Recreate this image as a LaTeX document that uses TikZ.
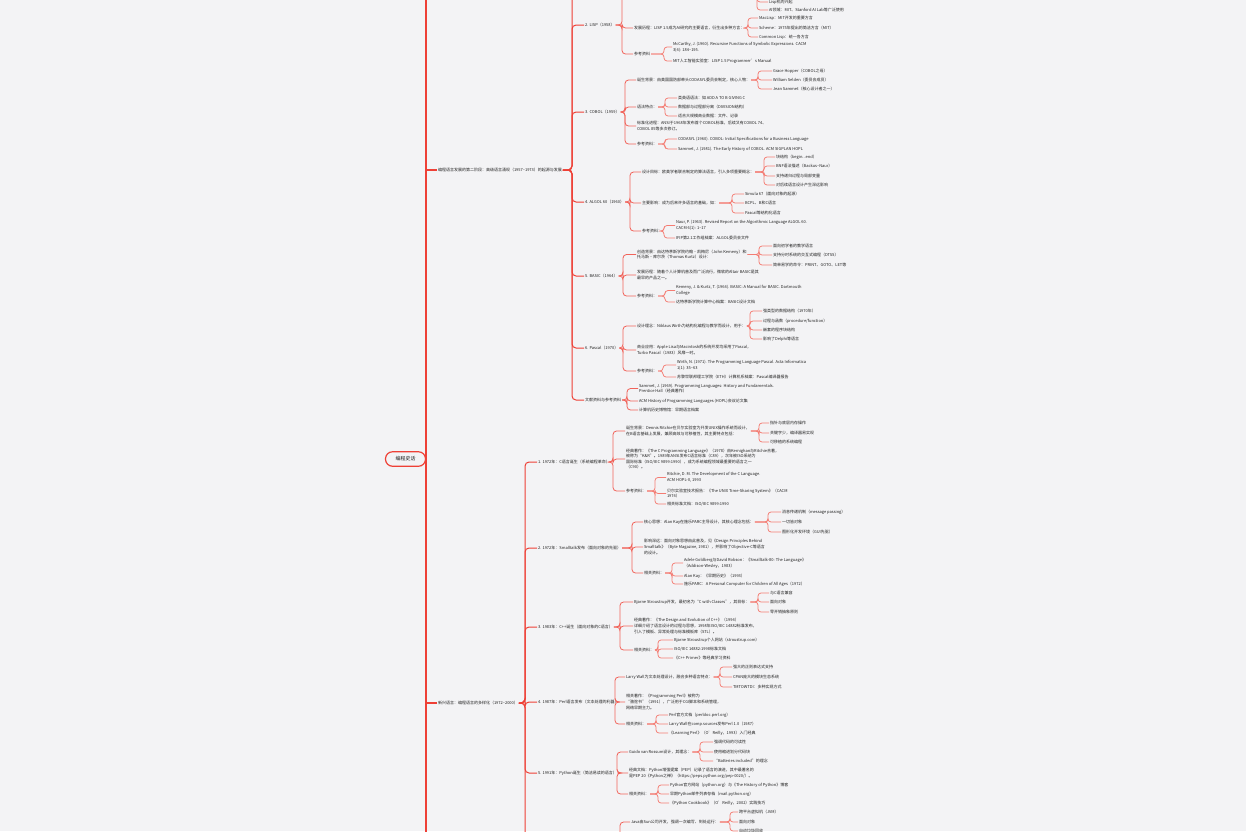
\documentclass[tikz,border=0pt]{standalone}
\usepackage{fontspec}
\setmainfont{Noto Sans CJK SC}
\usetikzlibrary{positioning}
\definecolor{bg}{HTML}{F3F3F5}
\definecolor{ink}{HTML}{222222}
\definecolor{mred}{HTML}{EE4036}
\definecolor{mrose}{HTML}{F1635A}
\definecolor{mpink}{HTML}{F47C73}
\tikzset{txt/.style={anchor=west,inner xsep=0.8pt,inner ysep=0.3pt,align=left,text=ink,font=\fontsize{4}{5.6}\selectfont}}
\tikzset{rootbox/.style={draw=mred,line width=1.2pt,rounded corners=7pt,fill=bg,text=ink,minimum width=40pt,minimum height=14.5pt,inner sep=1pt,font=\fontsize{5}{6}\selectfont}}
\tikzset{lk0/.style={draw=mred,line width=1.3pt,rounded corners=4pt}}
\tikzset{lk1/.style={draw=mred,line width=1pt,rounded corners=4pt}}
\tikzset{lk2/.style={draw=mrose,line width=0.8pt,rounded corners=3.5pt}}
\tikzset{lk3/.style={draw=mpink,line width=0.75pt,rounded corners=3pt}}

\begin{document}
\begin{tikzpicture}[x=1pt,y=-1pt]
\fill[bg] (0,0) rectangle (1246,831);
\useasboundingbox (0,0) rectangle (1246,831);

% root and first level
\node[rootbox] (root) at (405.5,459) {编程史话};
\node[txt] (hist) at (437,170) {编程语言发展的第二阶段：高级语言涌现（1957–1973）的起源与发展};
\node[txt] (mod) at (437,703) {新兴语言：编程语言的多样化（1972–2000）};

\coordinate (rtop) at (426,-12);
\coordinate (rbot) at (426,845);
\coordinate (histcut) at (572,-12);
\coordinate (modcut) at (525,845);

% LISP
\node[txt] (lisp) at (584,25) {2. LISP（1958）};
\node[txt] (lispH) at (633,28) {发展历程：LISP 1.5成为AI研究的主要语言，衍生出多种方言：};
\node[txt] (lispR) at (633,54) {参考资料};
\node[txt] (lispH1) at (758,18) {MacLisp：MIT开发的重要方言};
\node[txt] (lispH2) at (758,28) {Scheme：1975年提出的简洁方言（MIT）};
\node[txt] (lispH3) at (758,37) {Common Lisp：统一各方言};
\node[txt] (lispR1) at (672,47) {McCarthy, J. (1960). Recursive Functions of Symbolic Expressions. CACM\\3(4): 184–195.};
\node[txt] (lispR2) at (672,61) {MIT人工智能实验室：LISP 1.5 Programmer's Manual};
\node[txt] (lispT1) at (768,2) {Lisp机的兴起};
\node[txt] (lispT2) at (768,10) {AI领域：MIT、Stanford AI Lab等广泛使用};
\coordinate (lispup) at (622,-12);
\coordinate (lispcut) at (757,-12);

% COBOL
\node[txt] (cobol) at (584,112) {3. COBOL（1959）};
\node[txt] (cobA) at (636,80) {诞生背景：由美国国防部牵头CODASYL委员会制定，核心人物：};
\node[txt] (cobB) at (636,107) {语法特点：};
\node[txt] (cobC) at (636,126) {标准化进程：ANSI于1968年发布首个COBOL标准，后续又有COBOL 74、\\COBOL 85等多次修订。};
\node[txt] (cobD) at (636,144) {参考资料：};
\node[txt] (cobA1) at (772,71) {Grace Hopper（COBOL之母）};
\node[txt] (cobA2) at (772,80) {William Selden（委员会成员）};
\node[txt] (cobA3) at (772,89) {Jean Sammet（核心设计者之一）};
\node[txt] (cobB1) at (677,98) {类英语语法：如 ADD A TO B GIVING C};
\node[txt] (cobB2) at (677,107) {数据部与过程部分离（DIVISION结构）};
\node[txt] (cobB3) at (677,116) {适合大规模商业数据：文件、记录};
\node[txt] (cobD1) at (677,139) {CODASYL (1960). COBOL: Initial Specifications for a Business Language};
\node[txt] (cobD2) at (677,149) {Sammet, J. (1981). The Early History of COBOL. ACM SIGPLAN HOPL};

% ALGOL 60
\node[txt] (algol) at (584,202) {4. ALGOL 60（1960）};
\node[txt] (algA) at (641,172) {设计目标：欧美学者联合制定的算法语言，引入多项重要概念：};
\node[txt] (algB) at (641,203) {主要影响：成为后来许多语言的基础，如：};
\node[txt] (algC) at (641,231) {参考资料：};
\node[txt] (algA1) at (775,157) {块结构（begin...end）};
\node[txt] (algA2) at (775,166) {BNF语法描述（Backus–Naur）};
\node[txt] (algA3) at (775,176) {支持递归过程与局部变量};
\node[txt] (algA4) at (775,185) {对后续语言设计产生深远影响};
\node[txt] (algB1) at (744,194) {Simula 67（面向对象的起源）};
\node[txt] (algB2) at (744,203) {BCPL、B和C语言};
\node[txt] (algB3) at (744,213) {Pascal等结构化语言};
\node[txt] (algC1) at (675,225.5) {Naur, P. (1963). Revised Report on the Algorithmic Language ALGOL 60.\\CACM 6(1): 1–17};
\node[txt] (algC2) at (675,238) {IFIP第2.1工作组档案：ALGOL委员会文件};

% BASIC
\node[txt] (basic) at (584,276) {5. BASIC（1964）};
\node[txt] (basA) at (636,254.5) {创造背景：由达特茅斯学院约翰·凯梅尼（John Kemeny）和\\托马斯·库尔茨（Thomas Kurtz）设计：};
\node[txt] (basB) at (636,275) {发展历程：随着个人计算机普及而广泛流行，微软的Altair BASIC是其\\最早的产品之一。};
\node[txt] (basC) at (636,296) {参考资料：};
\node[txt] (basA1) at (772,246) {面向初学者的教学语言};
\node[txt] (basA2) at (772,255) {支持分时系统的交互式编程（DTSS）};
\node[txt] (basA3) at (772,265) {简单易学的命令：PRINT、GOTO、LET等};
\node[txt] (basC1) at (675,290.5) {Kemeny, J. \& Kurtz, T. (1964). BASIC: A Manual for BASIC. Dartmouth\\College};
\node[txt] (basC2) at (675,302) {达特茅斯学院计算中心档案：BASIC设计文档};

% Pascal
\node[txt] (pascal) at (584,348) {6. Pascal（1970）};
\node[txt] (pasA) at (636,326) {设计理念：Niklaus Wirth为结构化编程与教学而设计，用于：};
\node[txt] (pasB) at (636,350) {商业应用：Apple Lisa与Macintosh的系统开发均采用了Pascal，\\Turbo Pascal（1983）风靡一时。};
\node[txt] (pasC) at (636,371) {参考资料：};
\node[txt] (pasA1) at (762,311) {强类型的数据结构（1970年）};
\node[txt] (pasA2) at (762,321) {过程与函数（procedure/function）};
\node[txt] (pasA3) at (762,330) {嵌套的程序块结构};
\node[txt] (pasA4) at (762,339) {影响了Delphi等语言};
\node[txt] (pasC1) at (676,365) {Wirth, N. (1971). The Programming Language Pascal. Acta Informatica\\1(1): 35–63};
\node[txt] (pasC2) at (676,377) {苏黎世联邦理工学院（ETH）计算机系档案：Pascal编译器报告};

% literature
\node[txt] (refs) at (584,400) {文献资料与参考资料};
\node[txt] (refs1) at (638,388.5) {Sammet, J. (1969). Programming Languages: History and Fundamentals.\\Prentice Hall（经典著作）};
\node[txt] (refs2) at (638,401) {ACM History of Programming Languages (HOPL)会议论文集};
\node[txt] (refs3) at (638,410) {计算机历史博物馆：早期语言档案};

% C
\node[txt] (clang) at (537,462) {1. 1972年：C语言诞生（系统编程革命）};
\node[txt] (cA) at (625,431) {诞生背景：Dennis Ritchie在贝尔实验室为开发UNIX操作系统而设计，\\在B语言基础上发展，兼顾高效与可移植性，其主要特点包括：};
\node[txt] (cB) at (625,459) {经典著作：《The C Programming Language》（1978）由Kernighan与Ritchie合著，\\被称为“K\&R”。1989年ANSI发布C语言标准（C89），次年被ISO采纳为\\国际标准（ISO/IEC 9899:1990），成为系统编程领域最重要的语言之一\\（C90）。};
\node[txt] (cC) at (625,491) {参考资料：};
\node[txt] (cA1) at (769,423) {指针与底层内存操作};
\node[txt] (cA2) at (769,433) {关键字少，编译器易实现};
\node[txt] (cA3) at (769,442) {可移植的系统编程};
\node[txt] (cC1) at (666,477.5) {Ritchie, D. M. The Development of the C Language.\\ACM HOPL-II, 1993};
\node[txt] (cC2) at (666,493.5) {贝尔实验室技术报告：《The UNIX Time-Sharing System》（CACM\\1974）};
\node[txt] (cC3) at (666,504) {相关标准文档：ISO/IEC 9899:1990};

% Smalltalk
\node[txt] (smtk) at (537,548) {2. 1972年：Smalltalk发布（面向对象的先驱）};
\node[txt] (sA) at (643,522) {核心思想：Alan Kay在施乐PARC主导设计，其核心理念包括：};
\node[txt] (sB) at (643,547) {影响深远：面向对象思想由此普及，见《Design Principles Behind\\Smalltalk》（Byte Magazine, 1981），并影响了Objective-C等语言\\的设计。};
\node[txt] (sC) at (643,573) {相关资料：};
\node[txt] (sA1) at (781,512) {消息传递机制（message passing）};
\node[txt] (sA2) at (781,522) {一切皆对象};
\node[txt] (sA3) at (781,532) {图形化开发环境（GUI先驱）};
\node[txt] (sC1) at (683,563) {Adele Goldberg与David Robson：《Smalltalk-80: The Language》\\（Addison-Wesley，1983）};
\node[txt] (sC2) at (683,576) {Alan Kay：《早期历史》（1993）};
\node[txt] (sC3) at (683,584) {施乐PARC：A Personal Computer for Children of All Ages（1972）};

% C++
\node[txt] (cpp) at (537,627) {3. 1983年：C++诞生（面向对象的C语言）};
\node[txt] (pA) at (633,602) {Bjarne Stroustrup开发，最初名为“C with Classes”，其目标：};
\node[txt] (pB) at (633,626) {经典著作：《The Design and Evolution of C++》（1994）\\详细介绍了语言设计的过程与思想，1998年ISO/IEC 14882标准发布，\\引入了模板、异常处理与标准模板库（STL）。};
\node[txt] (pC) at (633,650) {相关资料：};
\node[txt] (pA1) at (769,593) {与C语言兼容};
\node[txt] (pA2) at (769,602) {面向对象};
\node[txt] (pA3) at (769,612) {零开销抽象原则};
\node[txt] (pC1) at (673,640) {Bjarne Stroustrup个人网站（stroustrup.com）};
\node[txt] (pC2) at (673,649) {ISO/IEC 14882:1998标准文档};
\node[txt] (pC3) at (673,658) {《C++ Primer》等经典学习资料};

% Perl
\node[txt] (perl) at (537,702) {4. 1987年：Perl语言发布（文本处理的利器）};
\node[txt] (eA) at (625,677) {Larry Wall为文本处理设计，融合多种语言特点：};
\node[txt] (eB) at (625,702) {相关著作：《Programming Perl》被称为\\“骆驼书”（1991），广泛用于CGI脚本和系统管理，\\网络早期主力。};
\node[txt] (eC) at (625,724) {相关资料：};
\node[txt] (eA1) at (732,667) {强大的正则表达式支持};
\node[txt] (eA2) at (732,677) {CPAN庞大的模块生态系统};
\node[txt] (eA3) at (732,687) {TMTOWTDI：多种实现方式};
\node[txt] (eC1) at (668,715) {Perl官方文档（perldoc.perl.org）};
\node[txt] (eC2) at (668,724) {Larry Wall在comp.sources发布Perl 1.0（1987）};
\node[txt] (eC3) at (668,733) {《Learning Perl》（O'Reilly，1993）入门经典};

% Python
\node[txt] (py) at (537,773) {5. 1991年：Python诞生（简洁易读的语言）};
\node[txt] (yA) at (628,752) {Guido van Rossum设计，其理念：};
\node[txt] (yB) at (628,773) {经典文档：Python增强提案（PEP）记录了语言的演进，其中最著名的\\是PEP 20《Python之禅》（https://peps.python.org/pep-0020/）。};
\node[txt] (yC) at (628,794) {相关资料：};
\node[txt] (yA1) at (713,742) {强调代码的可读性};
\node[txt] (yA2) at (713,752) {使用缩进划分代码块};
\node[txt] (yA3) at (713,761) {“Batteries included”的理念};
\node[txt] (yC1) at (669,785) {Python官方网站（python.org）与《The History of Python》博客};
\node[txt] (yC2) at (669,794) {早期Python邮件列表存档（mail.python.org）};
\node[txt] (yC3) at (669,803) {《Python Cookbook》（O'Reilly，2002）实践技巧};

% Java, cut by the lower edge
\node[txt] (jv) at (630,822) {Java由Sun公司开发，强调一次编写、到处运行：};
\node[txt] (jv1) at (738,812) {跨平台虚拟机（JVM）};
\node[txt] (jv2) at (738,822) {面向对象};
\node[txt] (jv3) at (738,831) {自动垃圾回收};
\coordinate (jvcut) at (620,845);

% connectors
\draw[lk0] (rtop) -- (rbot);
\draw[lk0] (root.east) -- (root.east -| rtop);
\draw[lk0] (hist.west) -- (hist.west -| rtop);
\draw[lk0] (mod.west) -- (mod.west -| rtop);

\foreach \c in {lisp,cobol,algol,basic,pascal,refs} \draw[lk1] (\c.west) -- ++(-12,0) |- (hist.east);
\draw[lk1] (histcut) |- (hist.east);
\foreach \c in {clang,smtk,cpp,perl,py} \draw[lk1] (\c.west) -- ++(-12,0) |- (mod.east);
\draw[lk1] (modcut) |- (mod.east);

\foreach \c in {lispH,lispR} \draw[lk2] (\c.west) -- ++(-11,0) |- (lisp.east);
\draw[lk2] (lispup) |- (lisp.east);
\foreach \c in {lispH1,lispH2,lispH3} \draw[lk3] (\c.west) -- ++(-10,0) |- (lispH.east);
\foreach \c in {lispR1,lispR2} \draw[lk3] (\c.west) -- ++(-8,0) |- (lispR.east);
\foreach \c in {lispT1,lispT2} \draw[lk3] (\c.west) -- ++(-11,0) -- (lispcut);

\foreach \c in {cobA,cobB,cobC,cobD} \draw[lk2] (\c.west) -- ++(-11,0) |- (cobol.east);
\foreach \c in {cobA1,cobA2,cobA3} \draw[lk3] (\c.west) -- ++(-14,0) |- (cobA.east);
\foreach \c in {cobB1,cobB2,cobB3} \draw[lk3] (\c.west) -- ++(-12,0) |- (cobB.east);
\foreach \c in {cobD1,cobD2} \draw[lk3] (\c.west) -- ++(-12,0) |- (cobD.east);

\foreach \c in {algA,algB,algC} \draw[lk2] (\c.west) -- ++(-11,0) |- (algol.east);
\foreach \c in {algA1,algA2,algA3,algA4} \draw[lk3] (\c.west) -- ++(-11,0) |- (algA.east);
\foreach \c in {algB1,algB2,algB3} \draw[lk3] (\c.west) -- ++(-12,0) |- (algB.east);
\foreach \c in {algC1,algC2} \draw[lk3] (\c.west) -- ++(-11,0) |- (algC.east);

\foreach \c in {basA,basB,basC} \draw[lk2] (\c.west) -- ++(-13,0) |- (basic.east);
\foreach \c in {basA1,basA2,basA3} \draw[lk3] (\c.west) -- ++(-13,0) |- (basA.east);
\foreach \c in {basC1,basC2} \draw[lk3] (\c.west) -- ++(-10,0) |- (basC.east);

\foreach \c in {pasA,pasB,pasC} \draw[lk2] (\c.west) -- ++(-13,0) |- (pascal.east);
\foreach \c in {pasA1,pasA2,pasA3,pasA4} \draw[lk3] (\c.west) -- ++(-12,0) |- (pasA.east);
\foreach \c in {pasC1,pasC2} \draw[lk3] (\c.west) -- ++(-13,0) |- (pasC.east);

\foreach \c in {refs1,refs2,refs3} \draw[lk2] (\c.west) -- ++(-11,0) |- (refs.east);

\foreach \c in {cA,cB,cC} \draw[lk2] (\c.west) -- ++(-12,0) |- (clang.east);
\foreach \c in {cA1,cA2,cA3} \draw[lk3] (\c.west) -- ++(-10,0) |- (cA.east);
\foreach \c in {cC1,cC2,cC3} \draw[lk3] (\c.west) -- ++(-11,0) |- (cC.east);

\foreach \c in {sA,sB,sC} \draw[lk2] (\c.west) -- ++(-11,0) |- (smtk.east);
\foreach \c in {sA1,sA2,sA3} \draw[lk3] (\c.west) -- ++(-13,0) |- (sA.east);
\foreach \c in {sC1,sC2,sC3} \draw[lk3] (\c.west) -- ++(-11,0) |- (sC.east);

\foreach \c in {pA,pB,pC} \draw[lk2] (\c.west) -- ++(-13,0) |- (cpp.east);
\foreach \c in {pA1,pA2,pA3} \draw[lk3] (\c.west) -- ++(-11,0) |- (pA.east);
\foreach \c in {pC1,pC2,pC3} \draw[lk3] (\c.west) -- ++(-15,0) |- (pC.east);

\foreach \c in {eA,eB,eC} \draw[lk2] (\c.west) -- ++(-10,0) |- (perl.east);
\foreach \c in {eA1,eA2,eA3} \draw[lk3] (\c.west) -- ++(-12,0) |- (eA.east);
\foreach \c in {eC1,eC2,eC3} \draw[lk3] (\c.west) -- ++(-12,0) |- (eC.east);

\foreach \c in {yA,yB,yC} \draw[lk2] (\c.west) -- ++(-11,0) |- (py.east);
\foreach \c in {yA1,yA2,yA3} \draw[lk3] (\c.west) -- ++(-13,0) |- (yA.east);
\foreach \c in {yC1,yC2,yC3} \draw[lk3] (\c.west) -- ++(-11,0) |- (yC.east);

\draw[lk2] (jv.west) -- ++(-10,0) -- (jvcut);
\foreach \c in {jv1,jv2,jv3} \draw[lk3] (\c.west) -- ++(-8,0) |- (jv.east);
\end{tikzpicture}
\end{document}
